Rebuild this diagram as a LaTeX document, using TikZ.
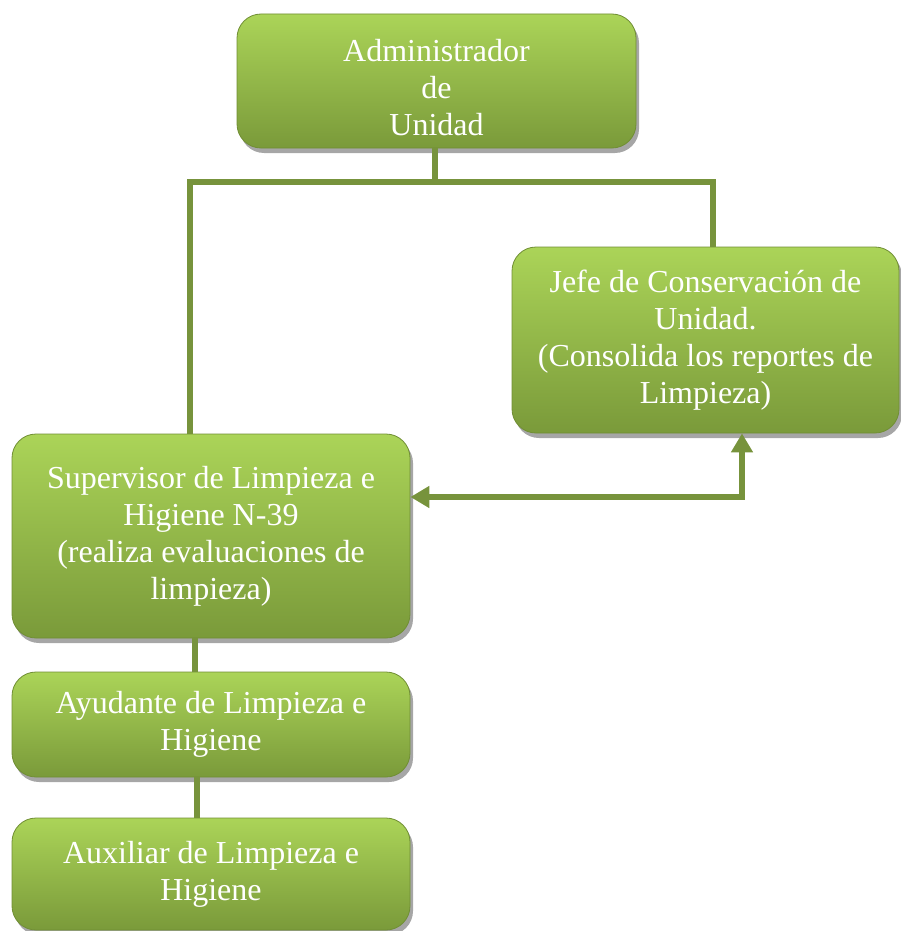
\documentclass[tikz,border=0pt]{standalone}
\usepackage{fontspec}
\setmainfont{Liberation Serif}
\usetikzlibrary{arrows.meta,shadows}
\definecolor{boxtop}{RGB}{171,212,88}
\definecolor{boxbot}{RGB}{122,154,58}
\definecolor{boxedge}{RGB}{112,142,52}
\definecolor{linkgreen}{RGB}{119,147,60}

\begin{document}
\begin{tikzpicture}[x=1pt, y=-1pt,
	orgbox/.style={rectangle, rounded corners=24pt, draw=boxedge, line width=0.8pt,
		top color=boxtop, bottom color=boxbot, text=white, align=center, inner sep=0pt,
		font=\fontsize{32}{37}\selectfont,
		drop shadow={shadow xshift=3pt, shadow yshift=-5pt, opacity=0.35, fill=black}},
	link/.style={draw=linkgreen, line width=6pt, line join=miter}]
	\useasboundingbox (0,0) rectangle (901,931);
	\node[orgbox, minimum width=399pt, minimum height=134pt] (admin) at (436.5,81) {\rule{0pt}{36pt}Administrador\\de\\Unidad};
	\node[orgbox, minimum width=387pt, minimum height=186pt] (jefe) at (705.5,340) {Jefe de Conservación de\\Unidad.\\(Consolida los reportes de\\Limpieza)};
	\node[orgbox, minimum width=398pt, minimum height=204pt] (sup) at (211,536) {Supervisor de Limpieza e\\Higiene N-39\\(realiza evaluaciones de\\limpieza)};
	\node[orgbox, minimum width=398pt, minimum height=105pt] (ayu) at (211,724.5) {Ayudante de Limpieza e\\Higiene};
	\node[orgbox, minimum width=398pt, minimum height=112pt] (aux) at (211,874) {Auxiliar de Limpieza e\\Higiene};
	\coordinate (bus) at (435,182);
	\coordinate (rjoin) at (713,182);
	\coordinate (ljoin) at (190,182);
	\coordinate (elbow) at (742,497);
	\draw[link] (admin.south -| bus) -- (bus);
	\draw[link] (jefe.north -| rjoin) -- (rjoin) -- (ljoin) -- (sup.north -| ljoin);
	\draw[link, {Triangle[length=19pt, width=21pt]}-{Triangle[length=19pt, width=21pt]}] (sup.east |- elbow) -- (elbow) -- (jefe.south -| elbow);
	\draw[link] ([xshift=-16pt]sup.south) -- ([xshift=-16pt]ayu.north);
	\draw[link] ([xshift=-14pt]ayu.south) -- ([xshift=-14pt]aux.north);
\end{tikzpicture}
\end{document}
